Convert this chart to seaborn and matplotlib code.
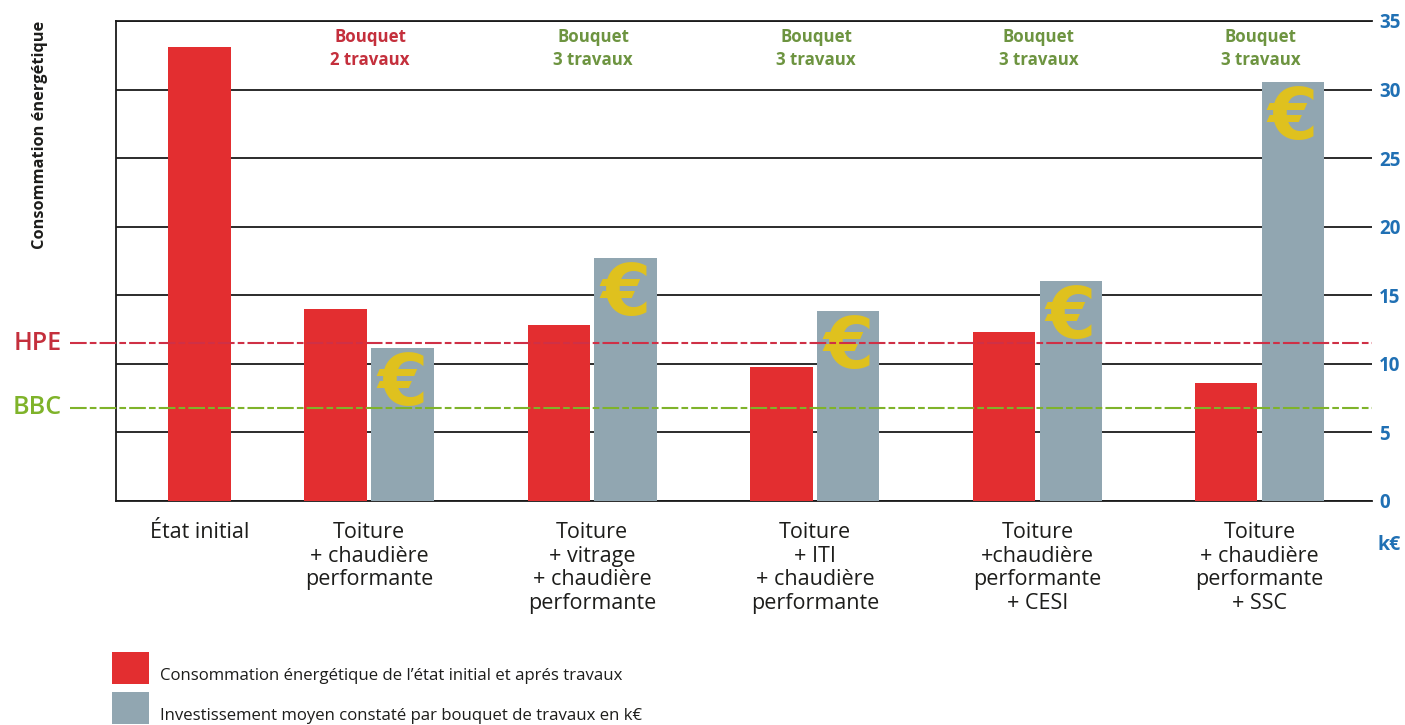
import numpy as np
import matplotlib.pyplot as plt
from matplotlib.patches import Rectangle
import seaborn as sns

# -----------------------------------
# Data
# -----------------------------------
categories = [
    "État initial",
    "Toiture\n+ chaudière\nperformante",
    "Toiture\n+ vitrage\n+ chaudière\nperformante",
    "Toiture\n+ ITI\n+ chaudière\nperformante",
    "Toiture\n+chaudière\nperformante\n+ CESI",
    "Toiture\n+ chaudière\nperformante\n+ SSC",
]
consommation = [33.1, 14.0, 12.85, 9.8, 12.35, 8.6]
investissement = [11.15, 17.7, 13.85, 16.05, 30.55]
bouquets = ["Bouquet\n2 travaux", "Bouquet\n3 travaux", "Bouquet\n3 travaux",
            "Bouquet\n3 travaux", "Bouquet\n3 travaux"]
y_ticks = [0, 5, 10, 15, 20, 25, 30, 35]
seuil_hpe = 11.5
seuil_bbc = 6.8
legend_labels = [
    "Consommation énergétique de l’état initial et aprés travaux",
    "Investissement moyen constaté par bouquet de travaux en k€",
]

# -----------------------------------
# Layout and colours
# -----------------------------------
group_x = np.array([0, 0.762, 1.765, 2.766, 3.766, 4.764])
dodge = 0.15
bar_w = 0.28

RED = "#e32e30"
GREY = "#91a6b1"
YELLOW = "#dfc11e"
BLUE = "#2070b4"
LABEL_RED = "#c42f3c"
LABEL_GREEN = "#6d9440"
LINE_RED = "#cf3046"
LINE_GREEN = "#7fb32a"
TEXT = "#1d1d1b"

sns.set_theme(style="white")
plt.rcParams["font.family"] = ["Open Sans", "DejaVu Sans"]

fig = plt.figure(figsize=(14.05, 7.25), dpi=100)
ax = fig.add_axes([116 / 1405, 1 - 501 / 725, 1256 / 1405, 480 / 725])

# -----------------------------------
# Bars
# -----------------------------------
red_x = np.concatenate([group_x[:1], group_x[1:] - dodge])
grey_x = group_x[1:] + dodge

sns.barplot(x=red_x, y=consommation, native_scale=True, orient="x", color=RED,
            saturation=1, width=bar_w / np.diff(red_x).min(), linewidth=0, ax=ax, zorder=3)
sns.barplot(x=grey_x, y=investissement, native_scale=True, orient="x", color=GREY,
            saturation=1, width=bar_w / np.diff(grey_x).min(), linewidth=0, ax=ax, zorder=3)

ax.set_xlim(-0.375, 5.27)
ax.set_ylim(0, 35)

# -----------------------------------
# Axes
# -----------------------------------
ax.set_axisbelow(True)
ax.grid(axis="y", color="#1a1a1a", linewidth=1.3)
ax.grid(axis="x", visible=False)
for side in ["top", "bottom", "left"]:
    ax.spines[side].set_visible(True)
    ax.spines[side].set_color("#1a1a1a")
    ax.spines[side].set_linewidth(1.3)
ax.spines["right"].set_visible(False)

ax.set_xticks(group_x, categories)
ax.tick_params(axis="x", length=0, pad=15, labelsize=15.5, labelcolor=TEXT)
for label in ax.get_xticklabels():
    label.set_linespacing(1.17)

ax.yaxis.tick_right()
ax.set_yticks(y_ticks, [str(v) for v in y_ticks])
ax.tick_params(axis="y", length=0, pad=5, labelsize=13.5, labelcolor=BLUE)
for label in ax.get_yticklabels():
    label.set_fontweight("bold")
ax.set_xlabel("")
ax.set_ylabel("")

# -----------------------------------
# HPE / BBC thresholds
# -----------------------------------
for value, name, line_col, text_col in [(seuil_hpe, "HPE", LINE_RED, LABEL_RED),
                                        (seuil_bbc, "BBC", LINE_GREEN, LINE_GREEN)]:
    ax.plot([-0.582, 5.27], [value, value], color=line_col, linewidth=1.5,
            linestyle=(0, (8, 1.5, 3.2, 1.5)), clip_on=False, zorder=4)
    ax.text(-0.62, value, name, color=text_col, fontsize=18, ha="right",
            va="center", fontweight="semibold")

# -----------------------------------
# Euro signs and "Bouquet" labels
# -----------------------------------
for x, value in zip(grey_x, investissement):
    ax.annotate("€", xy=(x, value), xytext=(0, -27), textcoords="offset points",
                ha="center", va="center", fontsize=52, color=YELLOW, zorder=3.5,
                family="DejaVu Sans", fontweight="bold")

for x, text in zip(group_x[1:], bouquets):
    col = LABEL_RED if text.endswith("2 travaux") else LABEL_GREEN
    ax.text(x + 0.005, 33.0, text, color=col, fontsize=12.2, fontweight="bold",
            ha="center", va="center", linespacing=1.35)

# -----------------------------------
# Texts outside the axes
# -----------------------------------
fig.text(40 / 1405, 1 - 135 / 725, "Consommation énergétique", rotation=90,
         ha="center", va="center", fontsize=11.8, fontweight="bold", color=TEXT)
fig.text(1389 / 1405, 1 - 545 / 725, "k€", ha="center", va="center",
         fontsize=14, fontweight="bold", color=BLUE)

# -----------------------------------
# Legend
# -----------------------------------
for top, col, text in zip([652, 692], [RED, GREY], legend_labels):
    fig.add_artist(Rectangle((112 / 1405, 1 - (top + 32) / 725), 37 / 1405, 32 / 725,
                             transform=fig.transFigure, color=col, linewidth=0))
    fig.text(160 / 1405, 1 - (top + 24) / 725, text, ha="left", va="center",
             fontsize=12.1, color=TEXT)

plt.savefig("out.png", dpi=100)
plt.close()
